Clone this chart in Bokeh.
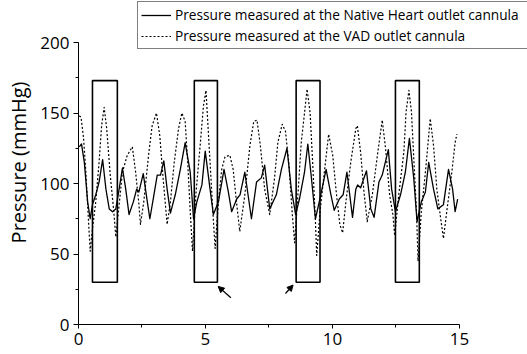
from bokeh.plotting import figure
from bokeh.models import (Legend, LegendItem, Arrow, NormalHead, Range1d,
                          FixedTicker, ColumnDataSource)
from bokeh.embed import file_html
from bokeh.resources import INLINE

# Native heart outlet cannula pressure (solid)
t_native = [0.03, 0.12, 0.23, 0.36, 0.46, 0.55, 0.68, 0.81, 0.95, 1.08, 1.21, 1.34,
            1.47, 1.60, 1.73, 1.86, 1.99, 2.16, 2.29, 2.38, 2.55, 2.71, 2.81, 2.97,
            3.10, 3.23, 3.36, 3.49, 3.62, 3.81, 4.01, 4.20, 4.40, 4.53, 4.66, 4.86,
            4.99, 5.18, 5.31, 5.51, 5.73, 5.90, 6.03, 6.23, 6.36, 6.55, 6.81, 7.01,
            7.20, 7.33, 7.53, 7.79, 7.99, 8.21, 8.38, 8.55, 8.70, 8.90, 9.03, 9.16,
            9.33, 9.48, 9.75, 9.94, 10.07, 10.27, 10.42, 10.57, 10.79, 10.92, 10.99,
            11.11, 11.34, 11.51, 11.64, 11.83, 11.96, 12.20, 12.33, 12.48, 12.68,
            12.87, 13.03, 13.20, 13.33, 13.50, 13.66, 13.79, 13.98, 14.15, 14.37,
            14.57, 14.73, 14.83, 14.93]
p_native = [126, 128, 115, 87, 75, 85, 92, 101, 117, 96, 82, 80,
            82, 96, 111, 96, 78, 87, 96, 94, 107, 87, 75, 92,
            106, 106, 116, 96, 79, 92, 110, 129, 108, 75, 87, 99,
            123, 96, 78, 87, 110, 94, 80, 89, 92, 108, 75, 101,
            104, 113, 82, 92, 110, 125, 96, 78, 89, 108, 128, 106,
            75, 87, 110, 92, 81, 89, 92, 108, 76, 96, 99,
            97, 109, 82, 76, 101, 106, 124, 96, 80, 92,
            108, 132, 104, 73, 87, 94, 115, 96, 82, 85,
            110, 96, 80, 89]

# VAD outlet cannula pressure (dotted)
t_vad = [0.03, 0.10, 0.20, 0.29, 0.38, 0.46, 0.55, 0.68, 0.81, 0.91, 1.01, 1.11,
         1.25, 1.38, 1.47, 1.60, 1.73, 1.92, 2.12, 2.25, 2.38, 2.44, 2.57, 2.77,
         2.90, 3.07, 3.20, 3.33, 3.49, 3.62, 3.77, 3.94, 4.07, 4.20, 4.30, 4.40,
         4.49, 4.62, 4.79, 4.92, 5.02, 5.18, 5.29, 5.38, 5.51, 5.64, 5.77, 5.96,
         6.09, 6.22, 6.35, 6.55, 6.75, 6.90, 7.03, 7.16, 7.33, 7.53, 7.72, 7.85,
         8.02, 8.15, 8.28, 8.42, 8.51, 8.64, 8.77, 8.90, 9.00, 9.12, 9.22, 9.33,
         9.38, 9.51, 9.68, 9.85, 10.01, 10.16, 10.29, 10.40, 10.53, 10.72, 10.92,
         10.98, 11.11, 11.24, 11.37, 11.57, 11.77, 11.96, 12.09, 12.25, 12.38,
         12.45, 12.61, 12.81, 12.90, 13.01, 13.11, 13.21, 13.31, 13.37, 13.50,
         13.66, 13.85, 13.98, 14.11, 14.24, 14.37, 14.50, 14.70, 14.83, 14.90]
p_vad = [148, 147, 132, 108, 78, 52, 68, 87, 115, 141, 154, 139,
         106, 82, 62, 85, 108, 120, 126, 108, 85, 71, 87, 122,
         141, 150, 134, 104, 71, 87, 115, 139, 150, 144, 115, 80,
         52, 92, 127, 155, 166, 115, 80, 54, 87, 110, 119, 120,
         110, 87, 66, 92, 127, 144, 145, 127, 96, 78, 104, 129,
         142, 137, 115, 78, 58, 92, 129, 150, 167, 150, 115, 73,
         49, 80, 108, 135, 120, 92, 71, 65, 87, 115, 139,
         141, 122, 94, 73, 92, 120, 145, 125, 92, 78,
         63, 92, 122, 151, 166, 151, 115, 80, 45, 80,
         108, 146, 127, 96, 78, 61, 80, 108, 129, 135]

# Highlight boxes
box_left = [0.55, 4.56, 8.57, 12.48]
box_right = [1.53, 5.47, 9.51, 13.42]
box_bottom = [30, 30, 30, 30]
box_top = [173, 173, 173, 173]

# Arrows
arrow_x_start = [6.00, 8.15]
arrow_y_start = [19, 22]
arrow_x_end = [5.50, 8.45]
arrow_y_end = [27, 28]

x_ticks = [0, 5, 10, 15]
x_minor = [2.5, 7.5, 12.5]
y_ticks = [0, 50, 100, 150, 200]
y_minor = [25, 75, 125, 175]

FONT = "Open Sans"

p = figure(width=527, height=354, output_backend="svg", toolbar_location=None,
           x_range=Range1d(0, 17.68), y_range=Range1d(0, 229.8),
           min_border_left=78, min_border_right=0, min_border_top=0,
           min_border_bottom=30)
p.outline_line_color = None
p.grid.visible = False
p.background_fill_color = "white"
p.border_fill_color = "white"

r_nat = p.line(t_native, p_native, line_color="black", line_width=1.3,
               line_join="round")
r_vad = p.line(t_vad, p_vad, line_color="black", line_width=1.2, line_dash="2 2",
               line_join="round")

p.quad(left=box_left, right=box_right, bottom=box_bottom, top=box_top,
       fill_color=None, line_color="black", line_width=1.6)

asrc = ColumnDataSource(dict(xs=arrow_x_start, ys=arrow_y_start,
                             xe=arrow_x_end, ye=arrow_y_end))
p.add_layout(Arrow(end=NormalHead(size=6, fill_color="black", line_color="black"),
                   x_start="xs", y_start="ys", x_end="xe", y_end="ye",
                   source=asrc, line_color="black", line_width=1.2))

for ax in (p.xaxis[0], p.yaxis[0]):
    ax.axis_line_color = "black"
    ax.axis_line_width = 1
    ax.major_tick_in = 0
    ax.minor_tick_in = 0
    ax.major_tick_line_color = "black"
    ax.minor_tick_line_color = "black"
    ax.major_label_text_font = FONT
    ax.major_label_text_font_size = "17px"
    ax.major_label_text_color = "black"
    ax.axis_label_text_font = FONT
    ax.axis_label_text_font_style = "normal"
    ax.axis_label_text_color = "black"

p.xaxis.bounds = (0, 15)
p.xaxis.ticker = FixedTicker(ticks=x_ticks, minor_ticks=x_minor)
p.xaxis.major_tick_out = 4
p.xaxis.minor_tick_out = 3
p.xaxis.major_label_standoff = 4

p.yaxis.bounds = (0, 200)
p.yaxis.ticker = FixedTicker(ticks=y_ticks, minor_ticks=y_minor)
p.yaxis.major_tick_out = 5
p.yaxis.minor_tick_out = 3
p.yaxis.major_label_standoff = 4
p.yaxis.axis_label = "Pressure (mmHg)"
p.yaxis.axis_label_text_font_size = "20px"
p.yaxis.axis_label_standoff = 5

legend = Legend(items=[
    LegendItem(label="Pressure measured at the Native Heart outlet cannula", renderers=[r_nat]),
    LegendItem(label="Pressure measured at the VAD outlet cannula", renderers=[r_vad]),
], location=(59, 275))
legend.label_text_font = FONT
legend.label_text_font_size = "13.7px"
legend.label_text_color = "black"
legend.border_line_color = "black"
legend.border_line_width = 1
legend.background_fill_color = "white"
legend.background_fill_alpha = 1
legend.padding = 3
legend.spacing = 2
legend.margin = 0
legend.glyph_width = 30
legend.glyph_height = 14
legend.label_height = 14
legend.label_width = 360
legend.label_standoff = 4
p.add_layout(legend, "center")

open("out.html", "w").write(file_html(p, INLINE))
